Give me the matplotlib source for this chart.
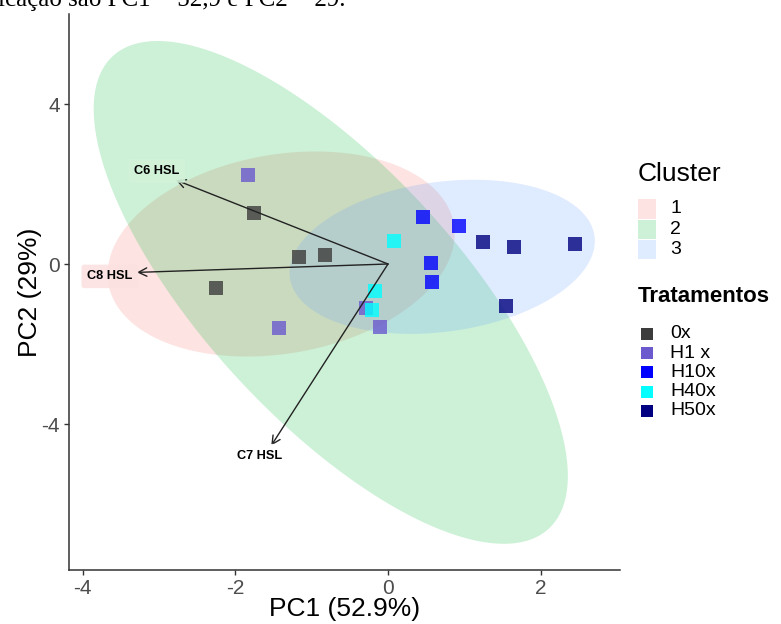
import numpy as np
import matplotlib
matplotlib.use('Agg')
import matplotlib.pyplot as plt
from matplotlib.patches import Rectangle

plt.rcParams['font.family'] = ['Liberation Sans', 'DejaVu Sans']
plt.rcParams['axes.unicode_minus'] = False

# ---------------- data ----------------
treatments = ['0x', 'H1 x', 'H10x', 'H40x', 'H50x']
treat_colors = ['#3c3c3c', '#6A5ACD', '#0000FF', '#00FFFF', '#000080']

pc1_0x = [-1.76, -1.17, -0.83, -2.25]
pc2_0x = [1.28, 0.18, 0.22, -0.60]
pc1_h1 = [-1.83, -1.43, -0.29, -0.11]
pc2_h1 = [2.23, -1.59, -1.10, -1.58]
pc1_h10 = [0.46, 0.93, 0.56, 0.58]
pc2_h10 = [1.18, 0.94, 0.03, -0.45]
pc1_h40 = [0.08, -0.17, -0.21]
pc2_h40 = [0.58, -0.67, -1.15]
pc1_h50 = [1.25, 1.65, 2.45, 1.54]
pc2_h50 = [0.54, 0.42, 0.49, -1.06]

clusters = ['1', '2', '3']
cluster_colors = ['#F8766D', '#00BA38', '#619CFF']
cluster_cx = [-1.40, -0.75, 0.71]
cluster_cy = [0.25, -0.71, 0.18]
cluster_sxx = [5.17, 9.65, 4.00]
cluster_syy = [6.57, 39.5, 3.71]
cluster_sxy = [1.15, -14.25, 0.79]

variables = ['C6 HSL', 'C8 HSL', 'C7 HSL']
load_pc1 = [-2.78, -3.29, -1.53]
load_pc2 = [2.10, -0.21, -4.54]

xticks = [-4, -2, 0, 2]
yticks = [-4, 0, 4]

# ---------------- figure ----------------
W, H = 781, 624
fig = plt.figure(figsize=(W / 100, H / 100), dpi=100)
ax = fig.add_axes([69 / W, 1 - 570 / H, (620 - 69) / W, (570 - 14) / H])
ax.set_xlim(-4.18, 3.04)
ax.set_ylim(-7.65, 6.25)

# ellipses
t = np.linspace(0, 2 * np.pi, 300)
for cx, cy, sxx, syy, sxy, col in zip(cluster_cx, cluster_cy, cluster_sxx,
                                      cluster_syy, cluster_sxy, cluster_colors):
    S = np.array([[sxx, sxy], [sxy, syy]])
    vals, vecs = np.linalg.eigh(S)
    L = vecs @ np.diag(np.sqrt(vals))
    pts = L @ np.vstack([np.cos(t), np.sin(t)])
    ax.fill(cx + pts[0], cy + pts[1], color=col, alpha=0.2, lw=0, zorder=1)

# points
series = [(pc1_0x, pc2_0x), (pc1_h1, pc2_h1), (pc1_h10, pc2_h10),
          (pc1_h40, pc2_h40), (pc1_h50, pc2_h50)]
for (xs, ys), col in zip(series, treat_colors):
    ax.scatter(xs, ys, marker='s', s=100, color=col, alpha=0.8, lw=0, zorder=3)

# arrows + labels
label_offsets = [(-19, 9), (-27, -4), (-12, -10)]
label_fc = ['#D3F3D9', '#FBE1E0', 'white']
for name, lx, ly, off, fc in zip(variables, load_pc1, load_pc2, label_offsets, label_fc):
    ax.annotate('', xy=(lx, ly), xytext=(0, 0),
                arrowprops=dict(arrowstyle='->', lw=1.0, color='#222222',
                                mutation_scale=15, shrinkA=0, shrinkB=0),
                zorder=4)
    ax.annotate(name, xy=(lx, ly), xytext=(off[0] * 0.72, off[1] * 0.72),
                textcoords='offset points', ha='center', va='center',
                fontsize=9.2, fontweight='bold', zorder=5,
                bbox=dict(boxstyle='round,pad=0.45,rounding_size=0.2',
                          fc=fc, ec='none', alpha=0.9))

# axes styling
for s in ['top', 'right']:
    ax.spines[s].set_visible(False)
for s in ['left', 'bottom']:
    ax.spines[s].set_color('#333333')
    ax.spines[s].set_linewidth(1.1)
ax.set_xticks(xticks)
ax.set_yticks(yticks)
ax.tick_params(colors='#333333', labelcolor='#4D4D4D', labelsize=15,
               length=3.5, width=1, pad=3)
ax.set_xlabel('PC1 (52.9%)', fontsize=19)
ax.set_ylabel('PC2 (29%)', fontsize=19)
ax.xaxis.set_label_coords(0.5, (570 - 597) / 556)
ax.xaxis.label.set_va('top')
ax.yaxis.set_label_coords((30 - 69) / 551, 0.5)
ax.yaxis.label.set_va('center')
ax.yaxis.label.set_ha('center')

# top cropped caption
fig.text(345 / W, 1 - 6 / H, 'Os componentes de classificação são PC1 = 52,9 e PC2 = 29.',
         ha='right', va='baseline', fontsize=18, family='Liberation Serif')

# ---------------- legends (manual) ----------------
def fx(px):
    return px / W

def fy(py):
    return 1 - py / H

fig.text(fx(638), fy(174), 'Cluster', fontsize=19, va='center', ha='left')
for i, (lab, col) in enumerate(zip(clusters, cluster_colors)):
    yc = 209 + i * 20.3
    fig.add_artist(Rectangle((fx(638), fy(yc + 9.8)), 18 / W, 19.6 / H,
                             transform=fig.transFigure, color=col, alpha=0.2, lw=0))
    fig.text(fx(670), fy(yc), lab, fontsize=14, va='center', ha='left')

fig.text(fx(638), fy(296), 'Tratamentos', fontsize=16, fontweight='bold',
         va='center', ha='left')
for i, (lab, col) in enumerate(zip(treatments, treat_colors)):
    yc = 334 + i * 19.2
    fig.add_artist(Rectangle((fx(640.5), fy(yc + 6)), 12 / W, 12 / H,
                             transform=fig.transFigure, color=col, lw=0))
    fig.text(fx(670), fy(yc), lab, fontsize=14, va='center', ha='left')

fig.savefig('out.png', dpi=100)
